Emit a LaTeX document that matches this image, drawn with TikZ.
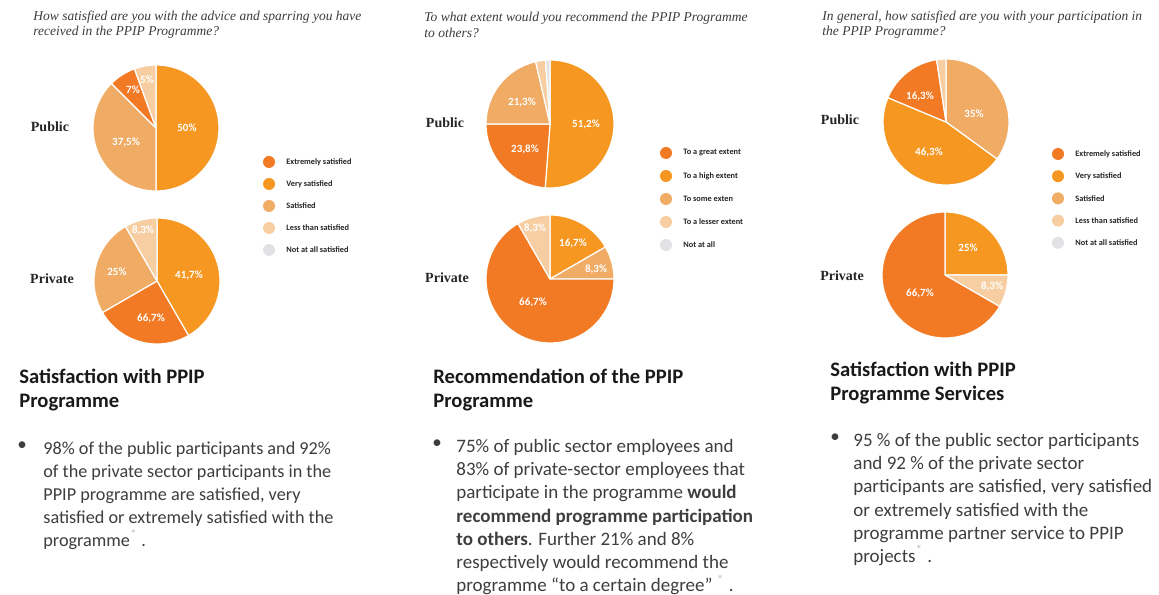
\documentclass[tikz,border=0pt]{standalone}
\usepackage{fontspec}
\usepackage{tikz}
\usetikzlibrary{positioning}
\newfontfamily\calib{Carlito}
\newfontfamily\serf{Liberation Serif}
\definecolor{exsat}{RGB}{242,122,36}
\definecolor{verysat}{RGB}{246,151,33}
\definecolor{sat}{RGB}{240,171,101}
\definecolor{lesssat}{RGB}{246,206,161}
\definecolor{notsat}{RGB}{226,226,228}
\definecolor{bodygray}{RGB}{62,62,62}
\definecolor{askgray}{RGB}{60,60,60}
\newcommand{\Ast}{{\color{gray!50}\textsuperscript{*}}}

\begin{document}
\begin{tikzpicture}[
	x=0.5pt,y=0.5pt,
	PieEdge/.style={draw=white,line width=0.6pt,line join=round},
	SliceLabel/.style={text=white,font={\calib\bfseries\fontsize{5.5}{6}\selectfont},inner sep=0pt},
	GroupLabel/.style={font={\serf\bfseries\fontsize{7}{8}\selectfont},text=black!85,inner sep=0pt},
	AskText/.style={font={\serf\itshape\fontsize{6.75}{7.6}\selectfont},text=askgray,align=left,anchor=west,inner sep=0pt},
	LegendText/.style={font={\calib\bfseries\fontsize{4.15}{5}\selectfont},text=black!85,anchor=west,inner sep=0pt},
	HeadText/.style={font={\calib\bfseries\fontsize{10.3}{12}\selectfont},text=black!90,align=left,anchor=west,inner sep=0pt},
	BodyText/.style={font={\calib\fontsize{9.5}{11.6}\selectfont},text=bodygray,align=left,anchor=north west,inner sep=0pt}
	]
	\useasboundingbox (0,0) rectangle (1159,594);
	\fill[white] (0,0) rectangle (1159,594);
	
	% ---------- first panel: advice and sparring
	\node[AskText] (ask1) at (33,569) {How satisfied are you with the advice and sparring you have\\received in the PPIP Programme?};
	
	\coordinate (P1pub) at (156,466);
	\foreach \from/\to/\col in {0/180/verysat,180/315/sat,315/340/exsat,340/360/lesssat}
	\fill[\col,PieEdge] (P1pub) -- ++({90-\from}:63) arc[start angle={90-\from},end angle={90-\to},radius=63] -- cycle;
	\node[SliceLabel] (p1a) at (187,466) {50\%};
	\node[SliceLabel] (p1b) at (126,452) {37,5\%};
	\node[SliceLabel] (p1c) at (133,504) {7\%};
	\node[SliceLabel] (p1d) at (147,514) {5\%};
	
	\coordinate (P1pri) at (157,313);
	\foreach \from/\to/\col in {0/150/verysat,150/240/exsat,240/330/sat,330/360/lesssat}
	\fill[\col,PieEdge] (P1pri) -- ++({90-\from}:63) arc[start angle={90-\from},end angle={90-\to},radius=63] -- cycle;
	\node[SliceLabel] (q1a) at (189,319) {41,7\%};
	\node[SliceLabel] (q1b) at (151,276) {66,7\%};
	\node[SliceLabel] (q1c) at (117,322) {25\%};
	\node[SliceLabel] (q1d) at (143,364) {8,3\%};
	
	\node[GroupLabel] (pub1) at (50,467) {Public};
	\node[GroupLabel] (pri1) at (52,315) {Private};
	
	\foreach \col/\txt [count=\i] in {exsat/Extremely satisfied,verysat/Very satisfied,sat/Satisfied,lesssat/Less than satisfied,notsat/Not at all satisfied}
	{
		\fill[\col] (269,{432-22*(\i-1)}) circle[radius=6];
		\node[LegendText] (leg1\i) at (286,{432-22*(\i-1)}) {\txt};
	}
	
	% ---------- second panel: recommendation
	\node[AskText] (ask2) at (424,569) {To what extent would you recommend the PPIP Programme\\to others?};
	
	\coordinate (P2pub) at (550,470);
	\foreach \from/\to/\col in {0/184.3/verysat,184.3/270/exsat,270/347/sat,347/356/lesssat,356/360/notsat}
	\fill[\col,PieEdge] (P2pub) -- ++({90-\from}:64) arc[start angle={90-\from},end angle={90-\to},radius=64] -- cycle;
	\node[SliceLabel] (p2a) at (586,470) {51,2\%};
	\node[SliceLabel] (p2b) at (525,445) {23,8\%};
	\node[SliceLabel] (p2c) at (522,492) {21,3\%};
	
	\coordinate (P2pri) at (550,315);
	\foreach \from/\to/\col in {0/60/verysat,60/90/sat,90/330/exsat,330/360/lesssat}
	\fill[\col,PieEdge] (P2pri) -- ++({90-\from}:64) arc[start angle={90-\from},end angle={90-\to},radius=64] -- cycle;
	\node[SliceLabel] (q2a) at (573,351) {16,7\%};
	\node[SliceLabel] (q2b) at (596,325) {8,3\%};
	\node[SliceLabel] (q2c) at (533,292) {66,7\%};
	\node[SliceLabel] (q2d) at (535,366) {8,3\%};
	
	\node[GroupLabel] (pub2) at (445,471) {Public};
	\node[GroupLabel] (pri2) at (447,316) {Private};
	
	\foreach \col/\txt [count=\i] in {exsat/To a great extent,verysat/To a high extent,sat/To some exten,lesssat/To a lesser extent,notsat/Not at all}
	{
		\fill[\col] (666,{441-23*(\i-1)}) circle[radius=6];
		\node[LegendText] (leg2\i) at (683,{441-23*(\i-1)}) {\txt};
	}
	
	% ---------- third panel: participation
	\node[AskText] (ask3) at (822,569) {In general, how satisfied are you with your participation in\\the PPIP Programme?};
	
	\coordinate (P3pub) at (946,472);
	\foreach \from/\to/\col in {0/126/sat,126/292.7/verysat,292.7/351.4/exsat,351.4/360/lesssat}
	\fill[\col,PieEdge] (P3pub) -- ++({90-\from}:63) arc[start angle={90-\from},end angle={90-\to},radius=63] -- cycle;
	\node[SliceLabel] (p3a) at (974,480) {35\%};
	\node[SliceLabel] (p3b) at (929,442) {46,3\%};
	\node[SliceLabel] (p3c) at (920,498) {16,3\%};
	
	\coordinate (P3pri) at (945,319);
	\foreach \from/\to/\col in {0/90/verysat,90/120/lesssat,120/360/exsat}
	\fill[\col,PieEdge] (P3pri) -- ++({90-\from}:63) arc[start angle={90-\from},end angle={90-\to},radius=63] -- cycle;
	\node[SliceLabel] (q3a) at (968,346) {25\%};
	\node[SliceLabel] (q3b) at (992,308) {8,3\%};
	\node[SliceLabel] (q3c) at (920,301) {66,7\%};
	
	\node[GroupLabel] (pub3) at (840,474) {Public};
	\node[GroupLabel] (pri3) at (842,318) {Private};
	
	\foreach \col/\txt [count=\i] in {exsat/Extremely satisfied,verysat/Very satisfied,sat/Satisfied,lesssat/Less than satisfied,notsat/Not at all satisfied}
	{
		\fill[\col] (1058,{440-22.2*(\i-1)}) circle[radius=6];
		\node[LegendText] (leg3\i) at (1075,{440-22.2*(\i-1)}) {\txt};
	}
	
	% ---------- summary texts
	\node[HeadText] (head1) at (19,204) {Satisfaction with PPIP\\Programme};
	\node[BodyText] (bul1) at (17,153) {\textbullet};
	\node[BodyText,font={\calib\fontsize{9.1}{11.5}\selectfont}] (body1) at (43,153) {98\% of the public participants and 92\%\\
		of the private sector participants in the\\
		PPIP programme are satisfied, very\\
		satisfied or extremely satisfied with the\\
		programme\Ast\ .};
	
	\node[HeadText] (head2) at (433,204) {Recommendation of the PPIP\\Programme};
	\node[BodyText] (bul2) at (432,155) {\textbullet};
	\node[BodyText] (body2) at (456,155) {75\% of public sector employees and\\
		83\% of private-sector employees that\\
		participate in the programme \textbf{would}\\
		\textbf{recommend programme participation}\\
		\textbf{to others}. Further 21\% and 8\%\\
		respectively would recommend the\\
		programme “to a certain degree” \Ast\ .};
	
	\node[HeadText] (head3) at (830,211) {Satisfaction with PPIP\\Programme Services};
	\node[BodyText] (bul3) at (830,161) {\textbullet};
	\node[BodyText] (body3) at (853,161) {95 \% of the public sector participants\\
		and 92 \% of the private sector\\
		participants are satisfied, very satisfied\\
		or extremely satisfied with the\\
		programme partner service to PPIP\\
		projects\Ast\ .};
	
\end{tikzpicture}
\end{document}
